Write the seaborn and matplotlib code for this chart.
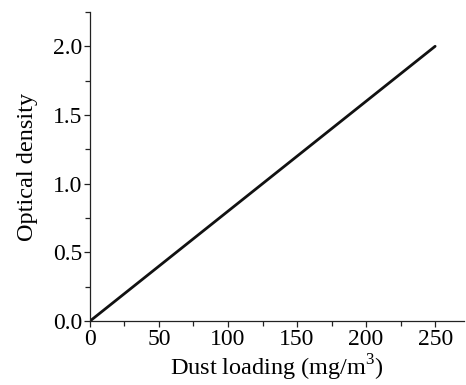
import matplotlib
matplotlib.use("Agg")
import matplotlib.pyplot as plt
import seaborn as sns
import pandas as pd
from matplotlib.ticker import MultipleLocator, FormatStrFormatter

# Calibration line: optical density versus dust loading
dust_loading = [0, 250]
optical_density = [0.0, 2.0]

sns.set_theme(style="ticks")
plt.rcParams["font.family"] = ["Liberation Serif", "DejaVu Serif"]
plt.rcParams["mathtext.fontset"] = "custom"
plt.rcParams["mathtext.rm"] = "Liberation Serif"

df = pd.DataFrame({"Dust loading": dust_loading, "Optical density": optical_density})

fig = plt.figure(figsize=(4.66, 3.85), dpi=100)
ax = fig.add_axes([0.193, 0.166, 0.803, 0.803])

sns.lineplot(data=df, x="Dust loading", y="Optical density", ax=ax,
             color="#111111", linewidth=2.0)

ax.set_xlim(0, 271)
ax.set_ylim(0, 2.25)
ax.xaxis.set_major_locator(MultipleLocator(50))
ax.xaxis.set_minor_locator(MultipleLocator(25))
ax.yaxis.set_major_locator(MultipleLocator(0.5))
ax.yaxis.set_minor_locator(MultipleLocator(0.25))
ax.yaxis.set_major_formatter(FormatStrFormatter("%.1f"))

for s in ("top", "right"):
    ax.spines[s].set_visible(False)
for s in ("left", "bottom"):
    ax.spines[s].set_linewidth(0.9)
    ax.spines[s].set_color("#222222")

ax.tick_params(which="major", direction="out", length=4.5, width=0.9,
               colors="#222222", labelsize=17, labelcolor="black", pad=1)
ax.tick_params(which="minor", direction="out", length=3.5, width=0.9,
               colors="#222222")

ax.set_xlabel(r"Dust loading (mg/m$^{3}$)", fontsize=17.5, color="black", labelpad=2)
ax.set_ylabel("Optical density", fontsize=17.5, color="black", labelpad=11)

fig.savefig("out.png", dpi=100)
